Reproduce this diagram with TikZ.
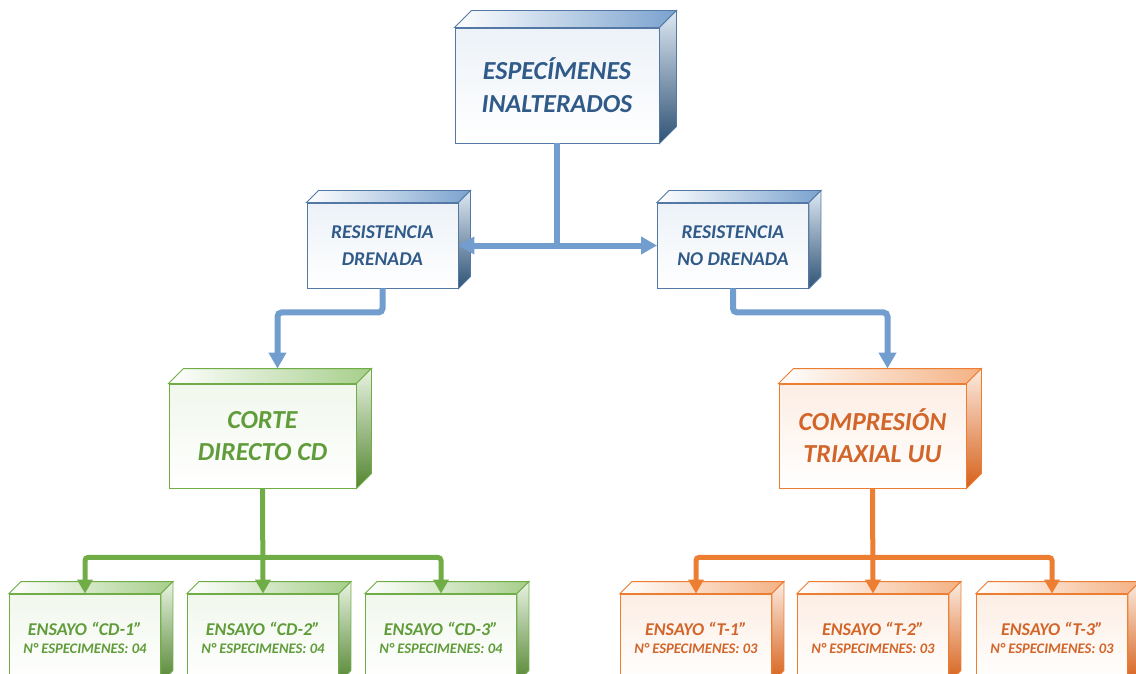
\documentclass[tikz,border=0pt]{standalone}
\usepackage{fontspec}
\setmainfont{Carlito}
\usetikzlibrary{arrows.meta,calc}
\usepackage{xcolor}
\definecolor{azullinea}{RGB}{114,157,207}
\definecolor{azultexto}{RGB}{48,90,136}
\definecolor{azulborde}{RGB}{84,120,165}
\definecolor{azulosc}{RGB}{47,83,117}
\definecolor{azulclaro}{RGB}{122,162,206}
\definecolor{verde}{RGB}{112,173,71}
\definecolor{verdetexto}{RGB}{96,156,58}
\definecolor{verdeosc}{RGB}{84,134,50}
\definecolor{verdeclaro}{RGB}{166,206,138}
\definecolor{naranja}{RGB}{237,125,49}
\definecolor{naranjatexto}{RGB}{210,102,42}
\definecolor{naranjaosc}{RGB}{214,96,26}
\definecolor{naranjaclaro}{RGB}{244,177,131}
\tikzset{
  caja/.style  ={rectangle, line width=0.9pt, align=center, inner sep=0pt,
                 font=\bfseries\itshape},
  cajaA/.style ={caja, draw=azulborde, text=azultexto,
                 top color=azulclaro!14, bottom color=white},      % azul
  cajaV/.style ={caja, draw=verde, text=verdetexto,
                 top color=verdeclaro!16, bottom color=white},     % verde / corte directo
  cajaN/.style ={caja, draw=naranja, text=naranjatexto,
                 top color=naranjaclaro!22, bottom color=white},   % naranja / triaxial
  ensayo/.style={minimum width=151pt, minimum height=88pt,
                 font=\fontsize{18}{19}\selectfont\bfseries\itshape},
  flechaA/.style={-{Triangle[length=16pt,width=17pt]}, line width=6pt,
                  draw=azullinea, rounded corners=4pt},
  flechaV/.style={-{Triangle[length=14pt,width=15pt]}, line width=5pt,
                  draw=verde, rounded corners=3pt},
  flechaN/.style={-{Triangle[length=14pt,width=15pt]}, line width=5pt,
                  draw=naranja, rounded corners=3pt},
}
% caras superior y lateral de cada caja: nodo, fondo, claro, oscuro, borde
\newcommand{\caras}[5]{%
  \draw[#5, line width=0.9pt, left color=white, right color=#3]
    (#1.north west) -- ++(#2,-#2) -- ($(#1.north east)+(#2,-#2)$)
    -- (#1.north east) -- cycle;
  \draw[#5, line width=0.9pt, top color=#3!25!white, bottom color=#4]
    (#1.north east) -- ++(#2,-#2) -- ($(#1.south east)+(#2,-#2)$)
    -- (#1.south east) -- cycle;
}
\newcommand{\nesp}[1]{\\[-1pt]{\fontsize{14.6}{16}\selectfont N° ESPECIMENES: #1}}

\begin{document}
\begin{tikzpicture}[x=1pt, y=-1pt]
  \useasboundingbox (0,0) rectangle (1136,674);
  \clip (0,0) rectangle (1136,674);

  \node[cajaA, minimum width=204pt, minimum height=115pt,
        font=\fontsize{26}{33}\selectfont\bfseries\itshape]
        (esp)   at (557,85.5)  {ESPECÍMENES\\INALTERADOS};
  \node[cajaA, minimum width=151pt, minimum height=85pt,
        font=\fontsize{19.5}{27}\selectfont\bfseries\itshape]
        (dren)  at (382.5,245.5) {RESISTENCIA\\DRENADA};
  \node[cajaA, minimum width=151pt, minimum height=85pt,
        font=\fontsize{19.5}{27}\selectfont\bfseries\itshape]
        (ndren) at (733,245.5) {RESISTENCIA\\NO DRENADA};
  \node[cajaV, minimum width=187pt, minimum height=104pt,
        font=\fontsize{26}{32}\selectfont\bfseries\itshape]
        (cd)    at (262.5,436) {CORTE\\DIRECTO CD};
  \node[cajaN, minimum width=187pt, minimum height=104pt,
        font=\fontsize{26}{32}\selectfont\bfseries\itshape]
        (tri)   at (872.5,436) {COMPRESIÓN\\TRIAXIAL UU};

  \node[cajaV, ensayo] (cd1) at (85,638)   {ENSAYO “CD-1”\nesp{04}};
  \node[cajaV, ensayo] (cd2) at (263,638)  {ENSAYO “CD-2”\nesp{04}};
  \node[cajaV, ensayo] (cd3) at (441,638)  {ENSAYO “CD-3”\nesp{04}};
  \node[cajaN, ensayo] (t1)  at (696,638)  {ENSAYO “T-1”\nesp{03}};
  \node[cajaN, ensayo] (t2)  at (873,638)  {ENSAYO “T-2”\nesp{03}};
  \node[cajaN, ensayo] (t3)  at (1052,638) {ENSAYO “T-3”\nesp{03}};

  \caras{esp}{17}{azulclaro}{azulosc}{azulborde}
  \caras{dren}{12}{azulclaro}{azulosc}{azulborde}
  \caras{ndren}{12}{azulclaro}{azulosc}{azulborde}
  \caras{cd}{15}{verdeclaro}{verdeosc}{verde}
  \caras{tri}{15}{naranjaclaro}{naranjaosc}{naranja}
  \caras{cd1}{12}{verdeclaro}{verdeosc}{verde}
  \caras{cd2}{12}{verdeclaro}{verdeosc}{verde}
  \caras{cd3}{12}{verdeclaro}{verdeosc}{verde}
  \caras{t1}{12}{naranjaclaro}{naranjaosc}{naranja}
  \caras{t2}{12}{naranjaclaro}{naranjaosc}{naranja}
  \caras{t3}{12}{naranjaclaro}{naranjaosc}{naranja}

  % ensayos de resistencia
  \coordinate (cruce) at (esp.south |- dren.east);
  \draw[azullinea, line width=6pt] (esp.south) -- (cruce);
  \draw[flechaA, {Triangle[length=16pt,width=17pt]}-{Triangle[length=16pt,width=17pt]}]
    (dren.east) -- (ndren.west);
  \draw[flechaA] (dren.south) -- ++(0,24) -| ($(cd.north)+(15,-15)$);
  \draw[flechaA] (ndren.south) -- ++(0,24) -| ($(tri.north)+(15,-15)$);

  % ramas de ensayos
  \coordinate (ramaV) at ($(cd.south)+(0,69)$);
  \coordinate (ramaN) at ($(tri.south)+(0,69)$);
  \draw[flechaV] (cd.south) -- (cd2.north);
  \draw[flechaV] (ramaV) -| (cd1.north);
  \draw[flechaV] (ramaV) -| (cd3.north);
  \draw[flechaN] (tri.south) -- (t2.north);
  \draw[flechaN] (ramaN) -| (t1.north);
  \draw[flechaN] (ramaN) -| (t3.north);
\end{tikzpicture}
\end{document}
